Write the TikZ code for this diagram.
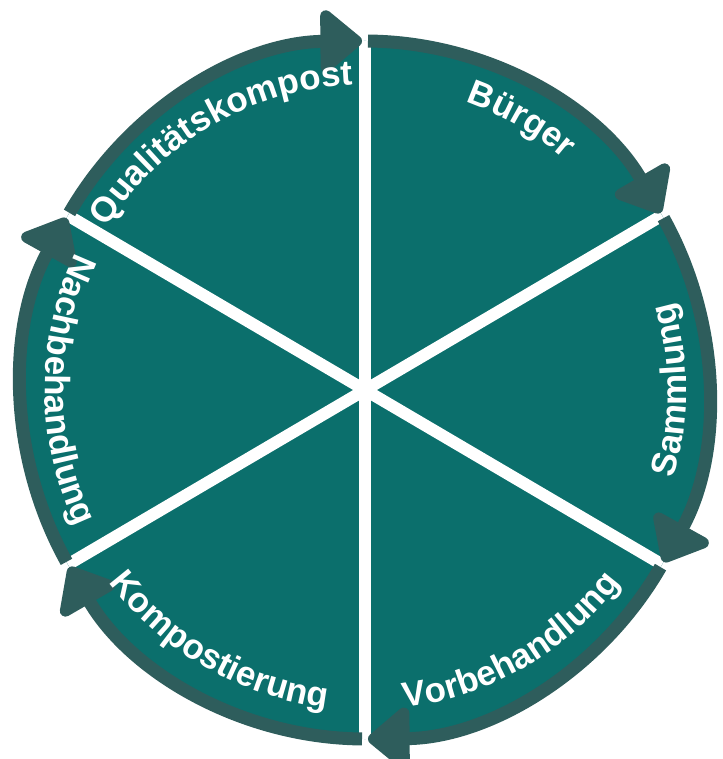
\documentclass[tikz,border=0pt]{standalone}
\usepackage{fontspec}
\setmainfont{Liberation Sans}
\usepackage{tikz}
\usetikzlibrary{arrows.meta, decorations.text}
\definecolor{sectorteal}{RGB}{11,111,108}
\definecolor{ringslate}{RGB}{46,93,92}

\begin{document}
\begin{tikzpicture}[
        x=1pt, y=1pt,
        % White spokes between the six sectors
        divider/.style={
            draw=white,
            line width=12pt
        },
        % One segment of the outer cycle, ending in a rounded arrow
        cyclearc/.style={
            draw=ringslate,
            line width=13pt,
            -{Triangle[length=45pt, width=72pt, round]}
        },
        % Curved white label set along an arc
        arclabel/.style={
            decorate,
            decoration={
                text along path,
                text align=center,
                text color=white,
                text={|\fontsize{35pt}{35pt}\selectfont\bfseries|#1}
            }
        }
    ]

    \useasboundingbox (-365,-369) rectangle (357,390);
    \coordinate (hub) at (0,0);

    % 1. Filled disc
    \fill[sectorteal] (hub) ellipse[x radius=343, y radius=349];

    % 2. Spokes from the hub
    \foreach \ang in {90,30,-30,-90,-150,150} {
        \draw[divider] (hub) -- (\ang:343 and 349);
    }

    % 3. Outer cycle, clockwise, one arrow per sector
    \foreach \ang in {150,90,30,-30,-90,-150} {
        \draw[cyclearc] (\ang-0.5:343 and 349)
            arc[start angle=\ang-0.5, end angle=\ang-59.5, x radius=343, y radius=349];
    }

    % 4. Labels: upper ones run clockwise, lower ones counter-clockwise
    \path[arclabel=Qualitätskompost] (150:305) arc[start angle=150, end angle=90, radius=305];
    \path[arclabel=Bürger]           (90:305)  arc[start angle=90, end angle=30, radius=305];
    \path[arclabel=Sammlung]         (-30:321) arc[start angle=-30, end angle=30, radius=321];
    \path[arclabel=Vorbehandlung]    (-90:320) arc[start angle=-90, end angle=-30, radius=320];
    \path[arclabel=Kompostierung]    (-150:320) arc[start angle=-150, end angle=-90, radius=320];
    \path[arclabel=Nachbehandlung]   (150:320) arc[start angle=150, end angle=210, radius=320];

\end{tikzpicture}
\end{document}
